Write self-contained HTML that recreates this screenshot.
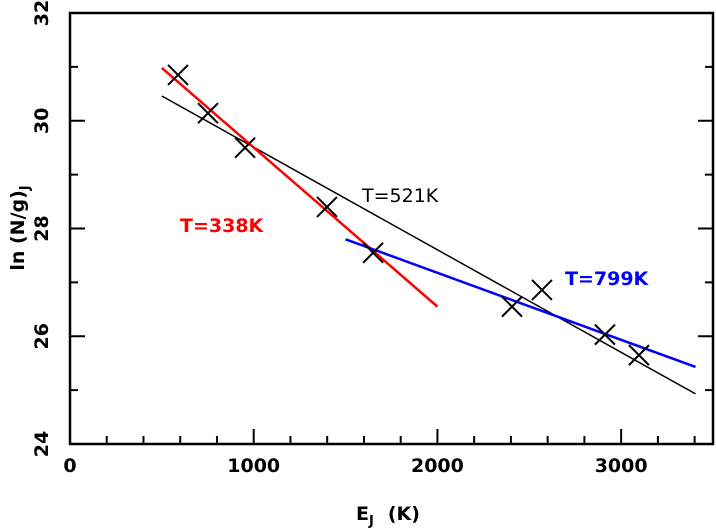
<!DOCTYPE html>
<html><head><meta charset="utf-8"><style>
body{margin:0;background:#fff}
svg{display:block;font-family:"DejaVu Sans","Liberation Sans",sans-serif;font-weight:bold}
</style></head><body>
<svg id="chart" width="716" height="528" viewBox="0 0 716 528">
<g id="ticks"></g>
<g id="lines"></g>
<g id="pts"></g>
<rect x="70" y="13" width="643" height="431" fill="none" stroke="#000" stroke-width="2.5"/>
<text x="356" y="520" font-size="19">E<tspan font-size="13" dy="5">J</tspan><tspan dy="-5" dx="14">(K)</tspan></text>
<text transform="translate(24,228) rotate(-90)" text-anchor="middle" font-size="19">ln (N/g)<tspan font-size="13" dy="5">J</tspan></text>
<text x="362" y="202" font-size="19" font-weight="normal" fill="#000">T=521K</text>
<text x="180" y="232" font-size="19" fill="#f00">T=338K</text>
<text x="565" y="285" font-size="19" fill="#00f">T=799K</text>
</svg>
<script>
const xs=[588,751,953,1399,1650,2406,2569,2912,3097];
const ys=[30.85,30.14,29.5,28.4,27.55,26.55,26.86,26.03,25.65];
const blackFit=[[500,30.46],[3405,24.93]];
const redFit=[[500,30.98],[2000,26.55]];
const blueFit=[[1500,27.8],[3405,25.43]];
const xTicks=[0,1000,2000,3000];
const yTicks=[24,26,28,30,32];
const X=v=>70+v*643/3500, Y=v=>444-(v-24)*431/8;
const NS="http://www.w3.org/2000/svg";
function mk(t,a,p){const e=document.createElementNS(NS,t);for(const k in a)e.setAttribute(k,a[k]);p.appendChild(e);return e;}
const tk=document.getElementById('ticks');
for(let v=200;v<3500;v+=200){const big=v%1000===0;
mk('line',{x1:X(v),x2:X(v),y1:444,y2:444-(big?15:8),stroke:'#000','stroke-width':2},tk);}
for(const v of xTicks){const t=mk('text',{x:X(v),y:472,'text-anchor':'middle','font-size':19},tk);t.textContent=v;

}
for(let v=25;v<32;v+=1){const big=v%2===0;
mk('line',{x1:70,x2:70+(big?15:8),y1:Y(v),y2:Y(v),stroke:'#000','stroke-width':2},tk);
mk('line',{x1:713,x2:713-(big?15:8),y1:Y(v),y2:Y(v),stroke:'#000','stroke-width':2},tk);}
for(const v of yTicks){const t=mk('text',{transform:`translate(48,${Y(v)}) rotate(-90)`,'text-anchor':'middle','font-size':19},tk);t.textContent=v;

}
const ln=document.getElementById('lines');
[[blackFit,'#000',1.5,'fit-521k'],[redFit,'#f00',2.5,'fit-338k'],[blueFit,'#00f',2.5,'fit-799k']].forEach(([f,c,w,n])=>{
const l=mk('line',{x1:X(f[0][0]),y1:Y(f[0][1]),x2:X(f[1][0]),y2:Y(f[1][1]),stroke:c,'stroke-width':w},ln);

});
const pg=document.getElementById('pts');
xs.forEach((v,i)=>{const cx=X(v),cy=Y(ys[i]),s=10;
const p=mk('path',{d:`M${cx-s},${cy-s}L${cx+s},${cy+s}M${cx-s},${cy+s}L${cx+s},${cy-s}`,stroke:'#000','stroke-width':2,fill:'none'},pg);

});
</script>
</body></html>
